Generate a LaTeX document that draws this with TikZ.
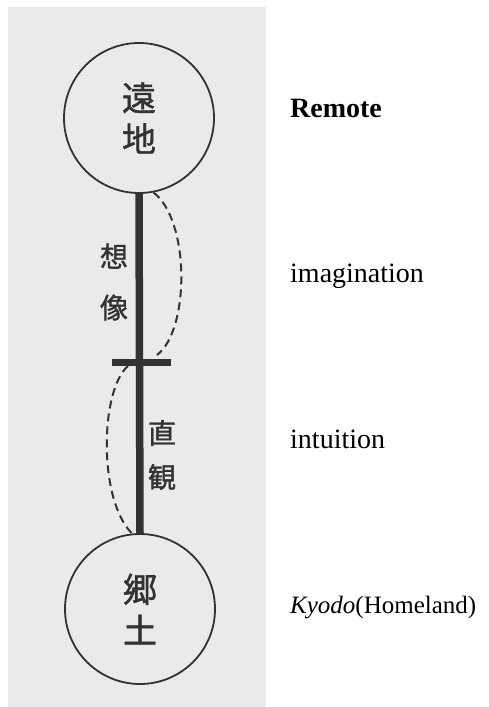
\documentclass[tikz,border=0pt]{standalone}
\usepackage{fontspec}
\setmainfont{Liberation Serif}
\newfontfamily\cjk{Noto Sans CJK JP}[FakeBold=1.2]
\definecolor{paper}{RGB}{234,234,234}
\definecolor{ink}{RGB}{50,50,50}
\begin{document}
\begin{tikzpicture}[x=1pt,y=-1pt,
  circ/.style={circle,draw=ink,line width=1.8pt,minimum size=150pt,inner sep=0pt,align=center,text=ink,font=\cjk\fontsize{34}{41}\selectfont},
  jlabel/.style={align=center,text=ink,inner sep=0pt},
  eng/.style={anchor=base west,inner sep=0pt,font=\fontsize{28}{32}\selectfont},
  thick line/.style={draw=ink,line width=7.5pt},
  dash line/.style={draw=ink,line width=2pt,dash pattern=on 8pt off 5pt}]
\useasboundingbox (0,0) rectangle (488,707);
\fill[paper] (8,7) rectangle (266,707);
\node[circ] (top) at (139,118) {遠\\地};
\node[circ] (bot) at (140,609) {郷\\土};
\draw[thick line] (top.south) -- (bot.north);
\coordinate (cbl) at (112,362);
\coordinate (cbr) at (171,362);
\draw[draw=ink,line width=7pt] (cbl) -- (cbr);
\coordinate (ue) at (157,355);
\coordinate (ls) at (128,366);
\draw[dash line] (top.-79) .. controls (190,220) and (190,330) .. (ue);
\draw[dash line] (ls) .. controls (100,390) and (98,500) .. (bot.96);
\node[jlabel,font=\cjk\fontsize{28}{51}\selectfont] (imag) at (114,282) {想\\像};
\node[jlabel,font=\cjk\fontsize{28}{44}\selectfont] (intu) at (162,455) {直\\観};
\node[eng] (remote) at (290,117) {\textbf{Remote}};
\node[eng] (imagE) at (290,282) {imagination};
\node[eng] (intuE) at (290,448) {intuition};
\node[eng,font=\fontsize{25}{30}\selectfont] (kyodo) at (290,613) {\textit{Kyodo}(Homeland)};
\end{tikzpicture}
\end{document}
